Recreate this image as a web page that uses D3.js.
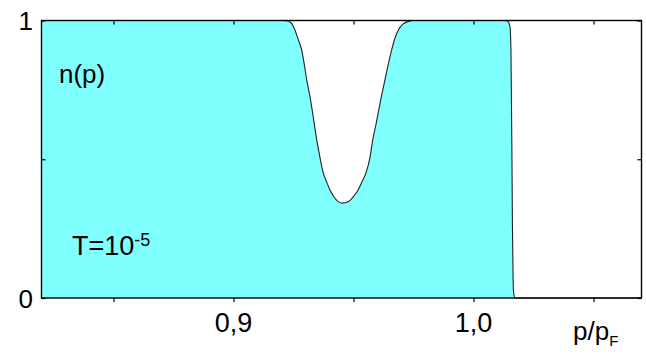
<!DOCTYPE html>
<html>
<head>
<meta charset="utf-8">
<script src="https://cdn.jsdelivr.net/npm/d3@7"></script>
<style>
  html, body { margin: 0; padding: 0; background: #fff; }
  svg { display: block; font-family: "Liberation Sans", Arial, sans-serif; }
</style>
</head>
<body>
<svg id="chart" width="646" height="354"></svg>
<script>
// Momentum p/p_F along the distribution n(p)
const momentum = [
  0.82, 0.9206, 0.9227, 0.9244, 0.9256, 0.9269, 0.9284, 0.9294, 0.9305, 0.9319,
  0.9331, 0.9347, 0.9360, 0.9373, 0.9390, 0.9402, 0.9419, 0.9435, 0.9452,
  0.9469, 0.9485, 0.9502, 0.9519, 0.9535, 0.9552, 0.9569, 0.9580, 0.9594,
  0.9610, 0.9631, 0.9659, 0.9673, 0.9687, 0.9706, 0.9727, 0.9748,
  1.0131, 1.0144, 1.0152, 1.0156, 1.0158, 1.0160, 1.0162, 1.0165, 1.0167, 1.0173,
  1.07
];
// Occupation number n(p)
const occupation = [
  1, 1, 0.998, 0.987, 0.966, 0.933, 0.894, 0.847, 0.786, 0.724,
  0.660, 0.569, 0.508, 0.454, 0.414, 0.389, 0.364, 0.348, 0.342,
  0.344, 0.351, 0.368, 0.389, 0.418, 0.451, 0.508, 0.569, 0.627,
  0.699, 0.786, 0.894, 0.937, 0.966, 0.987, 0.996, 1,
  1, 0.996, 0.977, 0.894, 0.714, 0.533, 0.281, 0.065, 0.022, 0,
  0
];
const xTicks = [0.85, 0.9, 0.95, 1.0, 1.05];
const xTickLabels = { 0.9: "0,9", 1.0: "1,0" };
const yTicks = [0, 0.5, 1];
const yTickLabels = { 0: "0", 1: "1" };

const svg = d3.select("#chart");
const plotLeft = 41.5, plotRight = 641.5, plotTop = 20.5, plotBottom = 298;

const x = d3.scaleLinear().domain([0.82, 1.07]).range([plotLeft, plotRight]);
const y = d3.scaleLinear().domain([0, 1]).range([plotBottom, plotTop]);

const pts = momentum.map((p, i) => ({ p, n: occupation[i] }));

// filled region under n(p)
svg.append("path")
  .datum(pts)
  .attr("fill", "#80ffff")
  .attr("d", d3.area().x(d => x(d.p)).y0(y(0)).y1(d => y(d.n)).curve(d3.curveMonotoneX));

// n(p) curve
svg.append("path")
  .datum(pts)
  .attr("fill", "none")
  .attr("stroke", "#222")
  .attr("stroke-width", 1.1)
  .attr("d", d3.line().x(d => x(d.p)).y(d => y(d.n)).curve(d3.curveMonotoneX));

// axes: outward labelled ticks at the bottom, inward ticks on the other sides
const tickLen = 4;
svg.append("g")
  .attr("transform", `translate(0,${plotBottom})`)
  .call(d3.axisBottom(x).tickValues(xTicks).tickSize(tickLen).tickSizeOuter(0).tickFormat(() => ""));
svg.append("g")
  .attr("transform", `translate(0,${plotTop})`)
  .call(d3.axisBottom(x).tickValues(xTicks).tickSize(tickLen).tickSizeOuter(0).tickFormat(() => ""));
svg.append("g")
  .attr("transform", `translate(${plotLeft},0)`)
  .call(d3.axisRight(y).tickValues(yTicks).tickSize(tickLen).tickSizeOuter(0).tickFormat(() => ""));
svg.append("g")
  .attr("transform", `translate(${plotRight},0)`)
  .call(d3.axisLeft(y).tickValues(yTicks).tickSize(tickLen).tickSizeOuter(0).tickFormat(() => ""));
svg.selectAll(".domain").remove();
svg.selectAll(".tick line").attr("stroke", "#000").attr("stroke-width", 1.2);

// frame
svg.append("rect")
  .attr("x", plotLeft).attr("y", plotTop)
  .attr("width", plotRight - plotLeft).attr("height", plotBottom - plotTop)
  .attr("fill", "none").attr("stroke", "#000").attr("stroke-width", 1.4);

// tick labels
svg.selectAll(".xlab")
  .data(xTicks.filter(t => xTickLabels[t]))
  .join("text")
  .attr("x", d => x(d)).attr("y", 332)
  .attr("text-anchor", "middle")
  .attr("font-size", 27)
  .text(d => xTickLabels[d]);
svg.selectAll(".ylab")
  .data(yTicks.filter(t => yTickLabels[t] !== undefined))
  .join("text")
  .attr("x", 33).attr("y", d => y(d) + 9.5)
  .attr("text-anchor", "end")
  .attr("font-size", 26)
  .text(d => yTickLabels[d]);

// axis title p/p_F
const xt = svg.append("text").attr("x", 573).attr("y", 340).attr("font-size", 26);
xt.append("tspan").text("p/p");
xt.append("tspan").attr("font-size", 15).attr("dy", 6).text("F");

// panel labels
svg.append("text").attr("x", 59).attr("y", 83).attr("font-size", 26).text("n(p)");
const tl = svg.append("text").attr("x", 72).attr("y", 255).attr("font-size", 27);
tl.append("tspan").text("T=10");
tl.append("tspan").attr("font-size", 18).attr("dy", -9).text("-5");
</script>
</body>
</html>
